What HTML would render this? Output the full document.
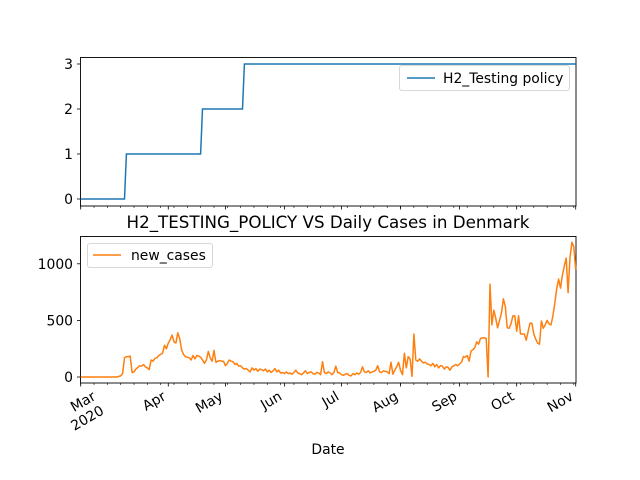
<!DOCTYPE html>
<html><head><meta charset="utf-8"><style>
body{margin:0;background:#fff}
svg{display:block;font-family:"DejaVu Sans","Liberation Sans",sans-serif}
</style></head><body>
<svg id="c" width="640" height="480" viewBox="0 0 640 480" xmlns="http://www.w3.org/2000/svg"></svg>
<script>
const monthLabels=["Mar","Apr","May","Jun","Jul","Aug","Sep","Oct","Nov"];
const monthDays=[0,46,76,107,137,168,199,229,260];
const policyLevels=[0,1,2,3];
const policyStartDay=[0,24,64,86];
const topTicks=[0,1,2,3];
const bottomTicks=[0,500,1000];
const newCases=[0,0,0,0,0,0,0,0,0,0,0,0,0,0,0,0,0,0,0,0,
5,10,30,170,180,180,185,40,45,70,85,100,95,110,90,80,65,150,140,165,170,190,200,210,280,250,300,330,370,310,300,390,340,240,200,180,175,170,150,190,160,190,185,175,150,120,150,225,170,140,235,130,140,145,140,140,100,120,150,140,135,110,120,95,100,80,70,75,60,45,
80,60,75,50,70,65,55,70,45,60,40,55,75,45,60,
35,40,30,45,30,35,25,40,60,35,30,20,35,55,30,40,45,30,25,40,35,20,
135,40,30,45,35,20,40,95,40,35,20,15,25,30,15,10,30,20,35,25,40,90,45,40,55,35,45,50,60,100,45,40,55,50,45,30,130,25,60,90,130,60,20,210,80,180,160,5,380,150,140,160,140,125,130,115,110,100,120,90,110,80,100,95,70,90,85,60,90,100,110,100,115,130,180,175,190,140,230,240,260,310,290,340,345,345,340,0,
820,460,590,520,435,500,565,690,625,435,430,470,540,540,405,540,380,380,380,325,400,475,475,380,335,300,290,495,430,460,500,470,460,540,650,780,865,785,900,980,1050,745,1055,1190,1150,950];
const NS='http://www.w3.org/2000/svg';
const svg=document.getElementById('c');
function el(t,a,p){const e=document.createElementNS(NS,t);for(const k in a)e.setAttribute(k,a[k]);(p||svg).appendChild(e);return e;}
const X0=80.7,X1=575.7,D1=260;
const FS=13.9;
const xs=d=>X0+(X1-X0)*d/D1;
const yTop=v=>199-45*v;
const yBot=v=>377-0.1132*v;
const ax1=el('rect',{x:80.5,y:57.5,width:495.5,height:148.5,fill:'none',stroke:'#000','stroke-width':0.9});


const ax2=el('rect',{x:80.5,y:236.5,width:495.5,height:146.5,fill:'none',stroke:'#000','stroke-width':0.9});


for(let d=0;d<=D1;d+=7){for(const yb of [206,383]){el('line',{x1:xs(d),x2:xs(d),y1:yb,y2:yb+2,stroke:'#000','stroke-width':0.6});}}
monthDays.forEach((d,i)=>{
  for(const yb of [206,383]){el('line',{x1:xs(d),x2:xs(d),y1:yb,y2:yb+3.5,stroke:'#000','stroke-width':0.8});}
  const dx=(i===0)?-16:1.5;
  const g=el('g',{transform:`translate(${xs(d)-dx},${390+9})`});
  const g2=el('g',{transform:'rotate(-30)'},g);
  const t=el('text',{x:0,y:0,'text-anchor':'end','font-size':FS,fill:'#000'},g2);
  t.textContent=monthLabels[i];
  
  
  if(i===0){const t2=el('text',{x:0,y:16.5,'text-anchor':'end','font-size':FS,fill:'#000'},g2);t2.textContent='2020';
    
    }
});
topTicks.forEach(v=>{const y=yTop(v);el('line',{x1:77,x2:80.5,y1:y,y2:y,stroke:'#000','stroke-width':0.8});
  const t=el('text',{x:73,y:y+5,'text-anchor':'end','font-size':FS});t.textContent=v;
  
  });
bottomTicks.forEach(v=>{const y=yBot(v);el('line',{x1:77,x2:80.5,y1:y,y2:y,stroke:'#000','stroke-width':0.8});
  const t=el('text',{x:73,y:y+5,'text-anchor':'end','font-size':FS});t.textContent=v;
  
  });
let pts=[];
for(let d=0;d<=D1;d++){let lv=0;for(let k=0;k<policyStartDay.length;k++){if(d>=policyStartDay[k])lv=policyLevels[k];}pts.push(xs(d).toFixed(1)+','+yTop(lv).toFixed(1));}
const pl=el('polyline',{points:pts.join(' '),fill:'none',stroke:'#1f77b4','stroke-width':1.5});


pts=newCases.map((v,d)=>xs(d).toFixed(1)+','+yBot(v).toFixed(1));
const cl=el('polyline',{points:pts.join(' '),fill:'none',stroke:'#ff7f0e','stroke-width':1.5,'stroke-linejoin':'round'});


const lg1=el('g',{});


el('rect',{x:399.5,y:65.5,width:170,height:25,rx:2.5,fill:'#fff',stroke:'#ccc','stroke-width':0.8},lg1);
el('line',{x1:407,x2:435,y1:78,y2:78,stroke:'#1f77b4','stroke-width':1.5},lg1);
const lt1=el('text',{x:443,y:83,'font-size':FS},lg1);lt1.textContent='H2_Testing policy';
const lg2=el('g',{});


el('rect',{x:87.5,y:243.5,width:125,height:24,rx:2.5,fill:'#fff',stroke:'#ccc','stroke-width':0.8},lg2);
el('line',{x1:93,x2:121,y1:255,y2:255,stroke:'#ff7f0e','stroke-width':1.5},lg2);
const lt2=el('text',{x:131,y:260,'font-size':FS},lg2);lt2.textContent='new_cases';
const tt=el('text',{x:328,y:228,'text-anchor':'middle','font-size':16.7});tt.textContent='H2_TESTING_POLICY VS Daily Cases in Denmark';


const xl=el('text',{x:328,y:454,'text-anchor':'middle','font-size':FS});xl.textContent='Date';


</script>
</body></html>
